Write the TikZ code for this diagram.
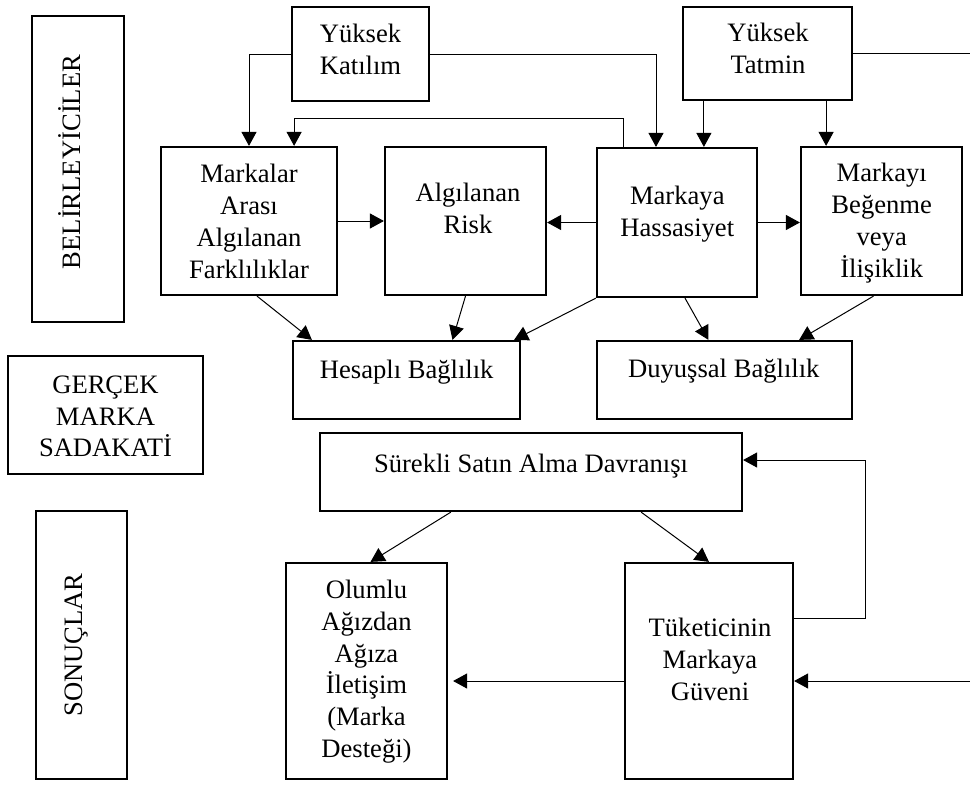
\documentclass[tikz,border=0pt]{standalone}
\usepackage{fontspec}
\setmainfont{Liberation Serif}
\usetikzlibrary{arrows.meta,calc}
\begin{document}
\begin{tikzpicture}[x=1pt,y=-1pt,
  box/.style={draw,line width=2.2pt,inner sep=0pt,rectangle},
  sz/.style 2 args={minimum width=#1,minimum height=#2},
  lbl/.style={inner sep=0pt,align=center,font=\fontsize{26.6}{31.7}\selectfont},
  arr/.style={line width=1pt,-{Triangle[length=14pt,width=15pt]}},
  ln/.style={line width=1pt}]
\useasboundingbox (0,0) rectangle (970,785);

% side headings
\node[box,sz={92pt}{306pt}] (bel) at (78,169) {};
\node[box,sz={195pt}{118pt}] (ger) at (105.5,415) {};
\node[box,sz={91pt}{268pt}] (son) at (81.5,645) {};
\node[lbl,rotate=90,anchor=base] (t-bel) at (80,162) {BELİRLEYİCİLER};
\node[lbl] (t-ger) at (105.5,418.7) {\strut GERÇEK\\\strut MARKA\\\strut SADAKATİ};
\node[lbl,rotate=90,anchor=base] (t-son) at (82,645) {SONUÇLAR};

% boxes
\node[box,sz={137pt}{94pt}] (kat) at (360.5,54) {};
\node[box,sz={169pt}{93pt}] (tat) at (767.5,53.5) {};
\node[box,sz={176pt}{148pt}] (mfa) at (249,221) {};
\node[box,sz={161pt}{148pt}] (risk) at (465.5,221) {};
\node[box,sz={160pt}{149pt}] (has) at (677,222.5) {};
\node[box,sz={161pt}{148pt}] (beg) at (881.5,221) {};
\node[box,sz={227pt}{78pt}] (hes) at (406.5,380) {};
\node[box,sz={255pt}{78pt}] (duy) at (724.5,380) {};
\node[box,sz={422pt}{78pt}] (sur) at (531,472) {};
\node[box,sz={161pt}{216pt}] (olu) at (366.5,671) {};
\node[box,sz={168pt}{216pt}] (tuk) at (709,671) {};

% texts
\node[lbl] (t-kat) at (360.5,52.2) {\strut Yüksek\\\strut Katılım};
\node[lbl] (t-tat) at (768,51.2) {\strut Yüksek\\\strut Tatmin};
\node[lbl] (t-mfa) at (249,224.2) {\strut Markalar\\\strut Arası\\\strut Algılanan\\\strut Farklılıklar};
\node[lbl] (t-risk) at (468,211.2) {\strut Algılanan\\\strut Risk};
\node[lbl] (t-has) at (677.3,214.2) {\strut Markaya\\\strut Hassasiyet};
\node[lbl] (t-beg) at (881.7,223.2) {\strut Markayı\\\strut Beğenme\\\strut veya\\\strut İlişiklik};
\node[lbl] (t-hes) at (406.7,371.7) {\strut Hesaplı Bağlılık};
\node[lbl] (t-duy) at (723.8,370.7) {\strut Duyuşsal Bağlılık};
\node[lbl] (t-sur) at (531,465.7) {\strut Sürekli Satın Alma Davranışı};
\node[lbl] (t-olu) at (366.5,671.7) {\strut Olumlu\\\strut Ağızdan\\\strut Ağıza\\\strut İletişim\\\strut (Marka\\\strut Desteği)};
\node[lbl] (t-tuk) at (710,662.2) {\strut Tüketicinin\\\strut Markaya\\\strut Güveni};

% connectors from the top row
\draw[arr] (kat.west) -| (mfa.north);
\draw[arr] (kat.east) -| ([xshift=-21pt]has.north);
\draw[arr] ([xshift=22pt]tat.south west) -- ([xshift=22pt]tat.south west |- has.north);
\draw[arr] ([xshift=-27pt]tat.south east) -- ([xshift=-27pt]tat.south east |- beg.north);
\coordinate (eA) at (970,53.5);
\draw[ln] (tat.east) -- (eA);
\draw[arr] ([xshift=28pt]has.north west) -- ++(0,-28) -| ([xshift=-44pt]mfa.north east);

% middle row
\draw[arr] (mfa.east) -- (risk.west);
\draw[arr] (has.west) -- (has.west -| risk.east);
\draw[arr] (has.east) -- (has.east -| beg.west);

% into the commitment boxes
\draw[arr] ([xshift=8pt]mfa.south) -- ([xshift=20pt]hes.north west);
\draw[arr] (risk.south) -- ([xshift=46pt]hes.north);
\draw[arr] (has.south west) -- ([xshift=-7pt]hes.north east);
\draw[arr] ([xshift=8pt]has.south) -- ([xshift=-16pt]duy.north);
\draw[arr] ([xshift=-8pt]beg.south) -- ([xshift=-54pt]duy.north east);

% outcomes
\draw[arr] ([xshift=132pt]sur.south west) -- ([xshift=4pt]olu.north);
\draw[arr] ([xshift=-102pt]sur.south east) -- (tuk.north);
\draw[arr] ($(tuk.north east)+(0,57)$) -- ++(71,0) |- ($(sur.east)+(0,-12)$);
\coordinate (eB) at (970,681);
\draw[arr] (eB) -- (eB -| tuk.east);
\draw[arr,shorten >=5pt] (tuk.west |- eB) -- (olu.east |- eB);
\end{tikzpicture}
\end{document}
